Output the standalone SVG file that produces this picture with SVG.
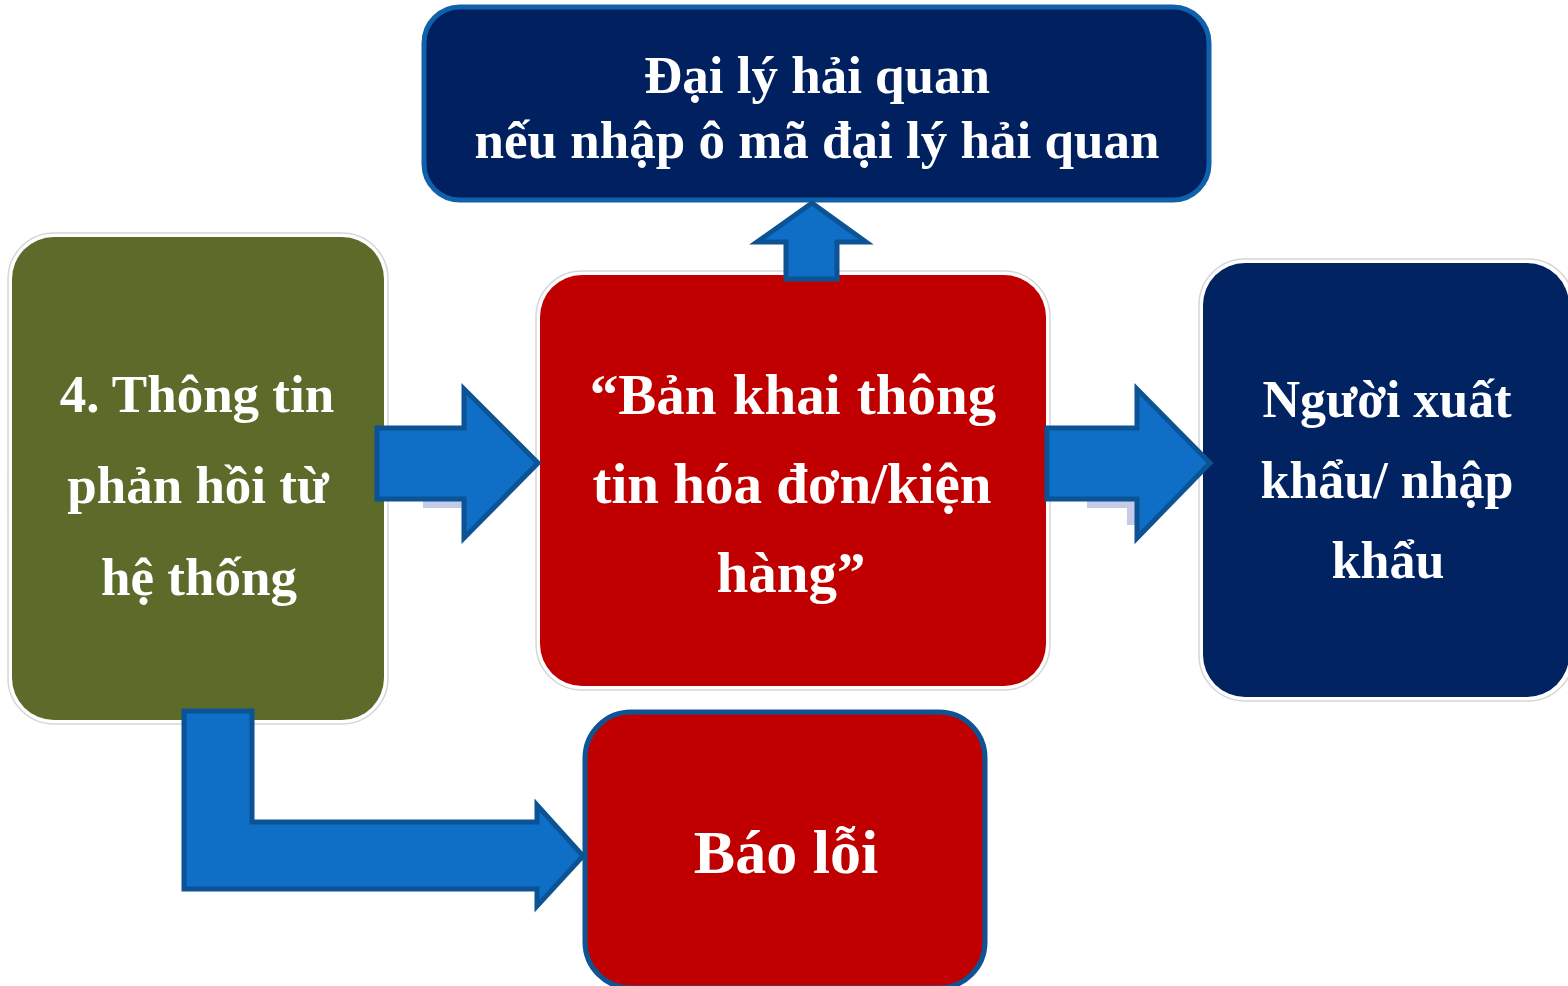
<svg xmlns="http://www.w3.org/2000/svg" width="1568" height="986" viewBox="0 0 1568 986">
<style>
.t{font-family:"Liberation Serif","Times New Roman",serif;font-weight:bold;fill:#ffffff;text-anchor:middle}
.halo{fill:none;stroke:#d6d6d6;stroke-width:1.5}
.arrow{fill:#0F6FC6;stroke:#0B5394;stroke-width:5;stroke-linejoin:miter}
.shadow{fill:#c3cbe6}
</style>
<rect width="1568" height="986" fill="#ffffff"/>

<g id="node-agent">
<rect x="424" y="7" width="785" height="193" rx="36" fill="#012060" stroke="#1160AA" stroke-width="5"/>
<text class="t" x="817" y="93" font-size="53">Đại lý hải quan</text>
<text class="t" x="817" y="158" font-size="53">nếu nhập ô mã đại lý hải quan</text>
</g>

<g id="node-feedback">
<rect x="8" y="233" width="380" height="491" rx="46" class="halo"/>
<rect x="12" y="237" width="372" height="483" rx="42" fill="#5C6B2A"/>
<text class="t" x="197" y="412" font-size="53">4. Thông tin</text>
<text class="t" x="198" y="503" font-size="53">phản hồi từ</text>
<text class="t" x="199" y="595" font-size="53">hệ thống</text>
</g>

<g id="node-declaration">
<rect x="536" y="271" width="514" height="419" rx="46" class="halo"/>
<rect x="540" y="275" width="506" height="411" rx="42" fill="#C00000"/>
<text class="t" x="793" y="414" font-size="57" word-spacing="2">“Bản khai thông</text>
<text class="t" x="792" y="503" font-size="57">tin hóa đơn/kiện</text>
<text class="t" x="791" y="592" font-size="57">hàng”</text>
</g>

<g id="node-trader">
<rect x="1199" y="259" width="375" height="442" rx="46" class="halo"/>
<rect x="1203" y="263" width="366" height="434" rx="42" fill="#012362"/>
<text class="t" x="1387" y="417" font-size="52">Người xuất</text>
<text class="t" x="1387" y="498" font-size="52">khẩu/ nhập</text>
<text class="t" x="1388" y="578" font-size="52">khẩu</text>
</g>

<g id="node-error">
<rect x="585" y="712" width="400" height="276" rx="46" fill="#C00000" stroke="#0E5494" stroke-width="5"/>
<text class="t" x="786" y="873" font-size="62">Báo lỗi</text>
</g>

<g id="connectors">
<rect class="shadow" x="423" y="500" width="42" height="8"/>
<rect class="shadow" x="1087" y="500" width="50" height="8"/>
<rect class="shadow" x="1127" y="500" width="10" height="25"/>
<polygon class="arrow" points="377,428 464,428 464,389 538,463 464,538 464,499 377,499"/>
<polygon class="arrow" points="1047,428 1137,428 1137,389 1210,463 1137,538 1137,499 1047,499"/>
<polygon class="arrow" points="786,279 786,242 757,242 812,203 866,242 837,242 837,279"/>
<polygon class="arrow" points="184,711 252,711 252,822 537,822 537,805 583,856 537,906 537,889 184,889"/>
</g>
</svg>
